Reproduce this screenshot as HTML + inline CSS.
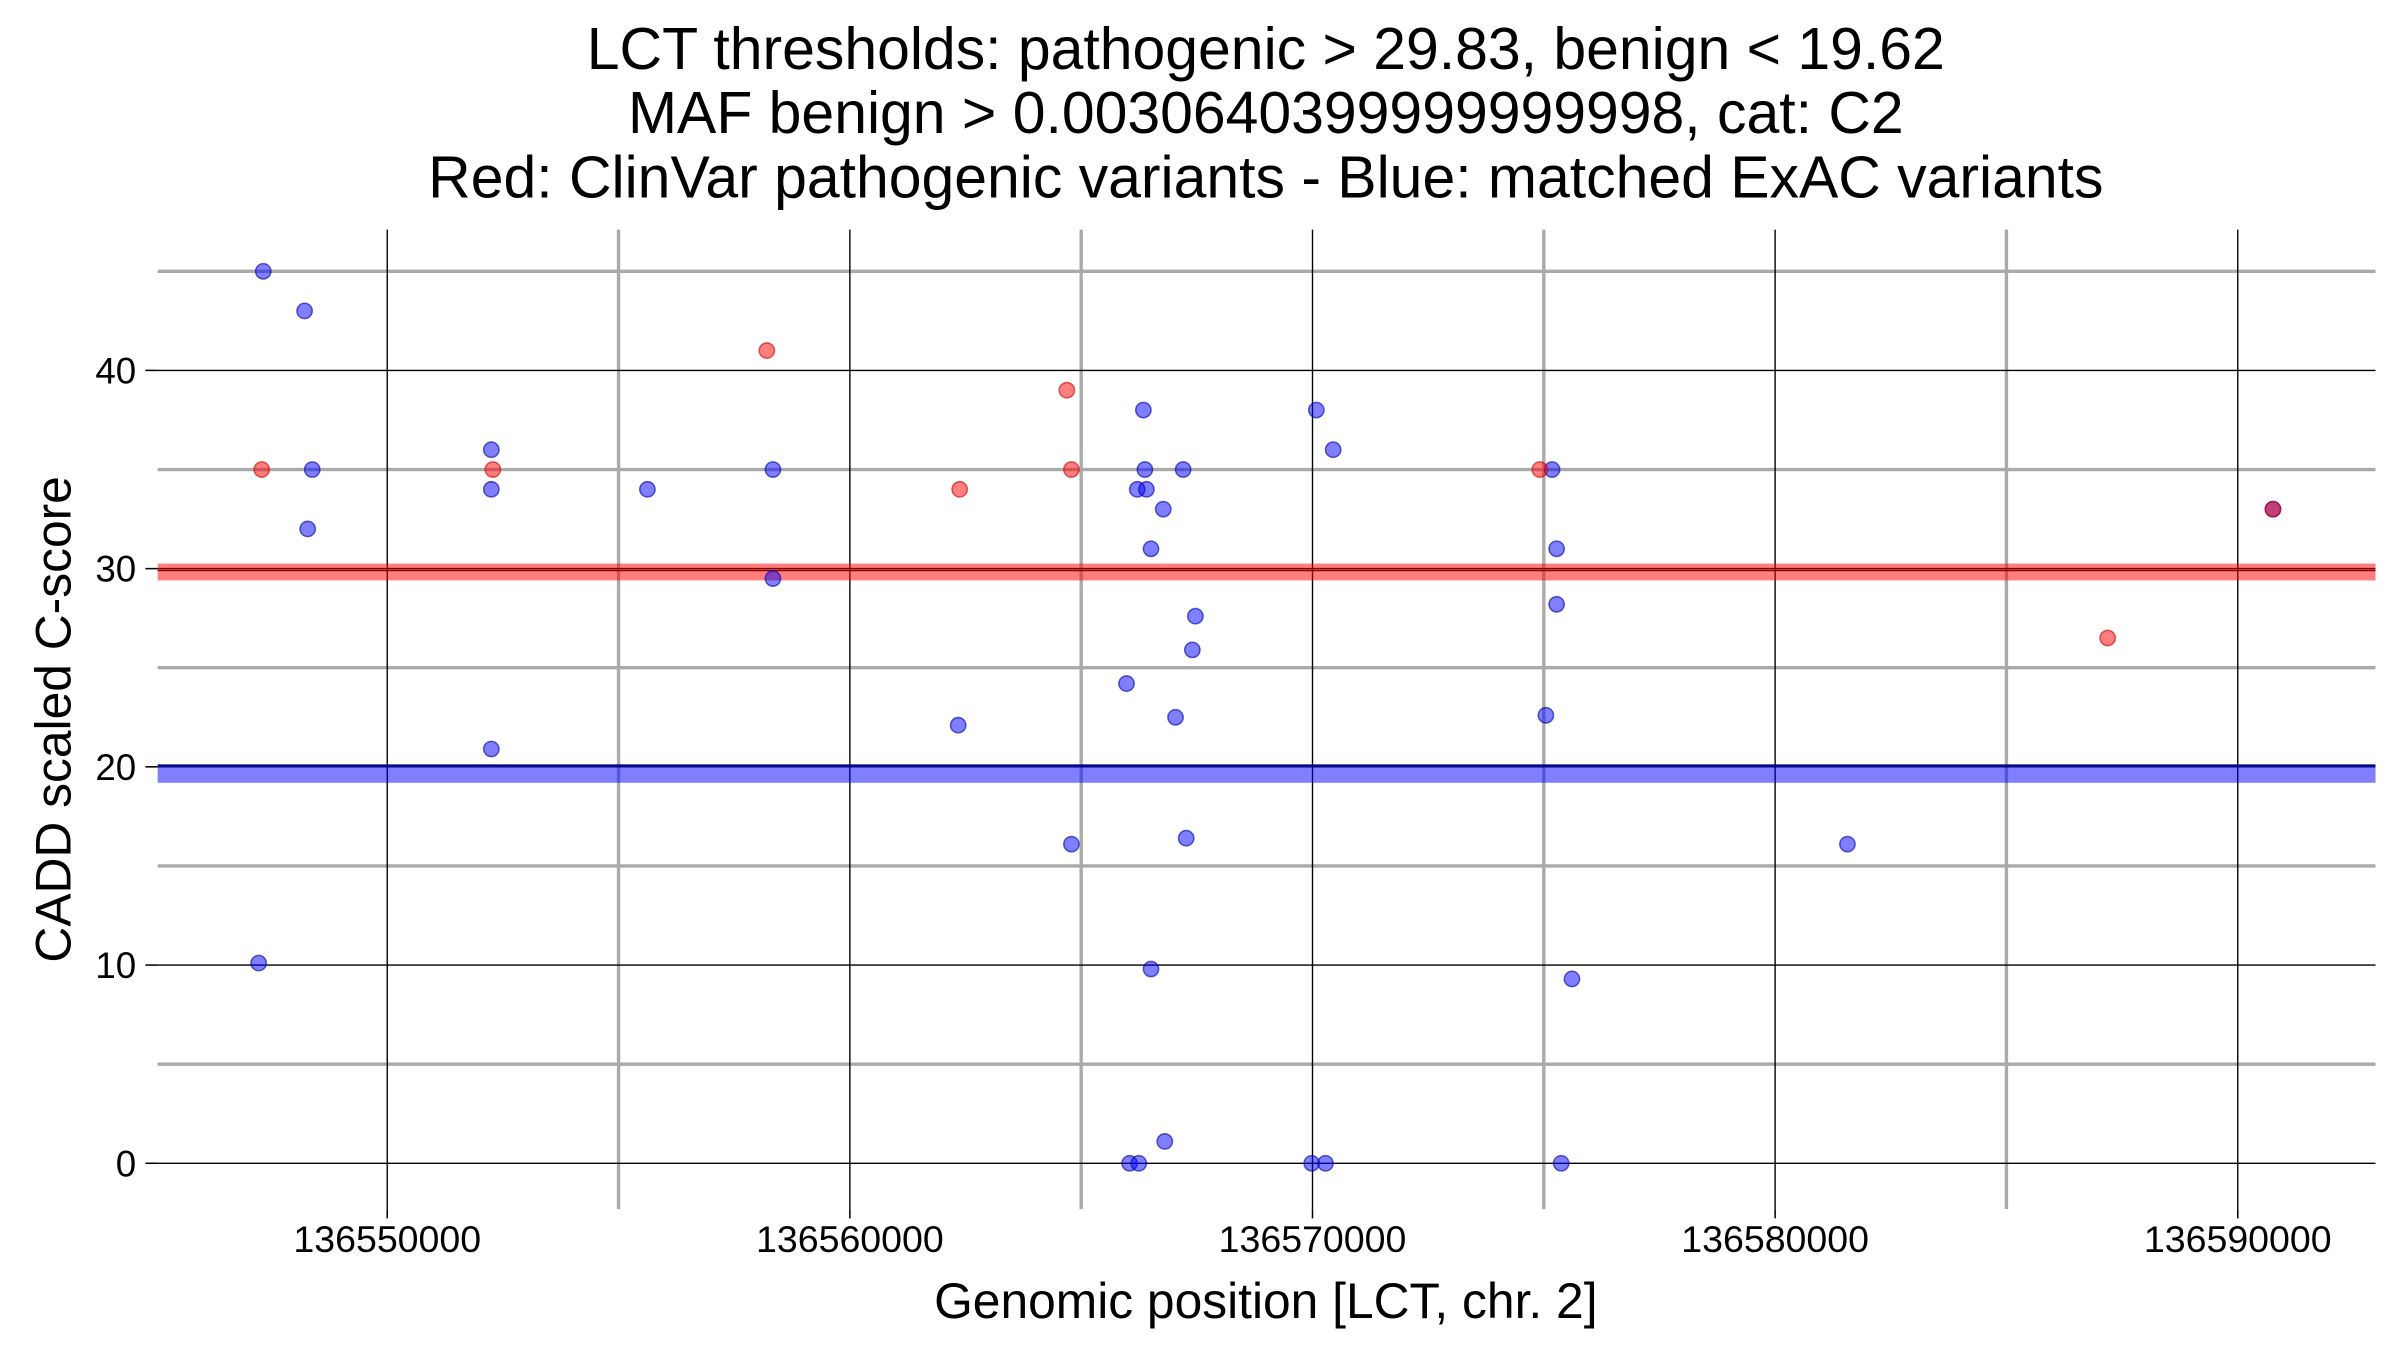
<!DOCTYPE html>
<html><head><meta charset="utf-8"><style>html,body{margin:0;padding:0;background:#fff}svg{display:block}text{font-family:"Liberation Sans",Arial,sans-serif;fill:#000}</style></head>
<body>
<svg id="chart" width="2400" height="1350" viewBox="0 0 1568 882" xmlns="http://www.w3.org/2000/svg">
<g id="grid"></g>
<g id="bands"></g>
<g id="points"></g>
<g id="axes"></g>
<g text-anchor="middle">
<text x="827" y="45" font-size="38.5">LCT thresholds: pathogenic &gt; 29.83, benign &lt; 19.62</text>
<text x="827" y="87" font-size="38.5">MAF benign &gt; 0.0030640399999999998, cat: C2</text>
<text x="827" y="129" font-size="38.5">Red: ClinVar pathogenic variants - Blue: matched ExAC variants</text>
</g>
<text x="827" y="861" font-size="32.5" text-anchor="middle">Genomic position [LCT, chr. 2]</text>
<text transform="translate(46,470) rotate(-90)" font-size="32.5" text-anchor="middle">CADD scaled C-score</text>
</svg>
<script>
const xTicks = [136550000, 136560000, 136570000, 136580000, 136590000];
const xMinor = [136545000, 136555000, 136565000, 136575000, 136585000];
const yTicks = [0, 10, 20, 30, 40];
const yMinor = [5, 15, 25, 35, 45];
const pathThreshold = 29.83;
const benignThreshold = 19.62;
const bluePos = [136547320,136548213,136548379,136548280,136547221,136552250,136552250,136552250,136555624,136558337,136558337,136562341,136564789,136565980,136566344,136566377,136566212,136566410,136566509,136566774,136567204,136567469,136567403,136567039,136567270,136566509,136566807,136566046,136566245,136570083,136570447,136569983,136570281,136575178,136575277,136575277,136575045,136575608,136575376,136581563,136590761];
const blueScore = [45,43,35,32,10.1,36,34,20.9,34,35,29.5,22.1,16.1,24.2,38,35,34,34,31,33,35,27.6,25.9,22.5,16.4,9.8,1.1,0,0,38,36,0,0,35,31,28.2,22.6,9.3,0,16.1,33];
const redPos = [136547287,136552283,136558205,136562374,136564690,136564789,136574913,136587188,136590761];
const redScore = [35,35,41,34,39,35,35,26.5,33];
const NS='http://www.w3.org/2000/svg';
const X0=103,X1=1552,Y0=150,Y1=790;
const sx=v=>253+(v-136550000)*0.030225;
const sy=v=>760-v*12.95;
function mk(tag,attrs,parent){const e=document.createElementNS(NS,tag);for(const k in attrs)e.setAttribute(k,attrs[k]);parent.appendChild(e);return e;}
const grid=document.getElementById('grid'),axes=document.getElementById('axes'),bands=document.getElementById('bands'),pts=document.getElementById('points');
yMinor.forEach(v=>{const l=mk('line',{x1:X0,x2:X1,y1:sy(v),y2:sy(v),stroke:'#aaaaaa','stroke-width':2.2},grid);

});
xMinor.forEach(v=>{if(sx(v)<X0)return;const l=mk('line',{x1:sx(v),x2:sx(v),y1:Y0,y2:Y1,stroke:'#aaaaaa','stroke-width':2.2},grid);

});
yTicks.forEach(v=>{const l=mk('line',{x1:X0,x2:X1,y1:sy(v),y2:sy(v),stroke:'#000','stroke-width':0.9},grid);


const t=mk('line',{x1:95,x2:X0,y1:sy(v),y2:sy(v),stroke:'#000','stroke-width':1},axes);


const tx=mk('text',{x:89,y:sy(v)+8.5,'font-size':24,'text-anchor':'end'},axes);tx.textContent=v;

});
xTicks.forEach(v=>{const l=mk('line',{x1:sx(v),x2:sx(v),y1:Y0,y2:Y1,stroke:'#000','stroke-width':0.9},grid);


const t=mk('line',{x1:sx(v),x2:sx(v),y1:Y1,y2:Y1+6,stroke:'#000','stroke-width':1},axes);


const tx=mk('text',{x:sx(v),y:818,'font-size':24.5,'text-anchor':'middle'},axes);tx.textContent=v;

});
[[pathThreshold,'rgba(255,0,0,0.5)','#8b0000','pathogenic-threshold-band',0],[benignThreshold,'rgba(0,0,255,0.5)','#00008b','benign-threshold-band',-5]].forEach(([v,c,lc,n,off])=>{
const r=mk('rect',{x:X0,y:sy(v)-5.5,width:X1-X0,height:11,fill:c},bands);


const l=mk('line',{x1:X0,x2:X1,y1:sy(v)-1+off,y2:sy(v)-1+off,stroke:lc,'stroke-width':1},bands);

});
bluePos.forEach((p,i)=>{const c=mk('circle',{cx:sx(p),cy:sy(blueScore[i]),r:5,fill:'rgba(0,0,255,0.5)',stroke:'rgba(0,0,160,0.6)','stroke-width':1},pts);

});
redPos.forEach((p,i)=>{const c=mk('circle',{cx:sx(p),cy:sy(redScore[i]),r:5,fill:'rgba(255,0,0,0.5)',stroke:'rgba(200,0,0,0.6)','stroke-width':1},pts);

});
</script>
</body></html>
